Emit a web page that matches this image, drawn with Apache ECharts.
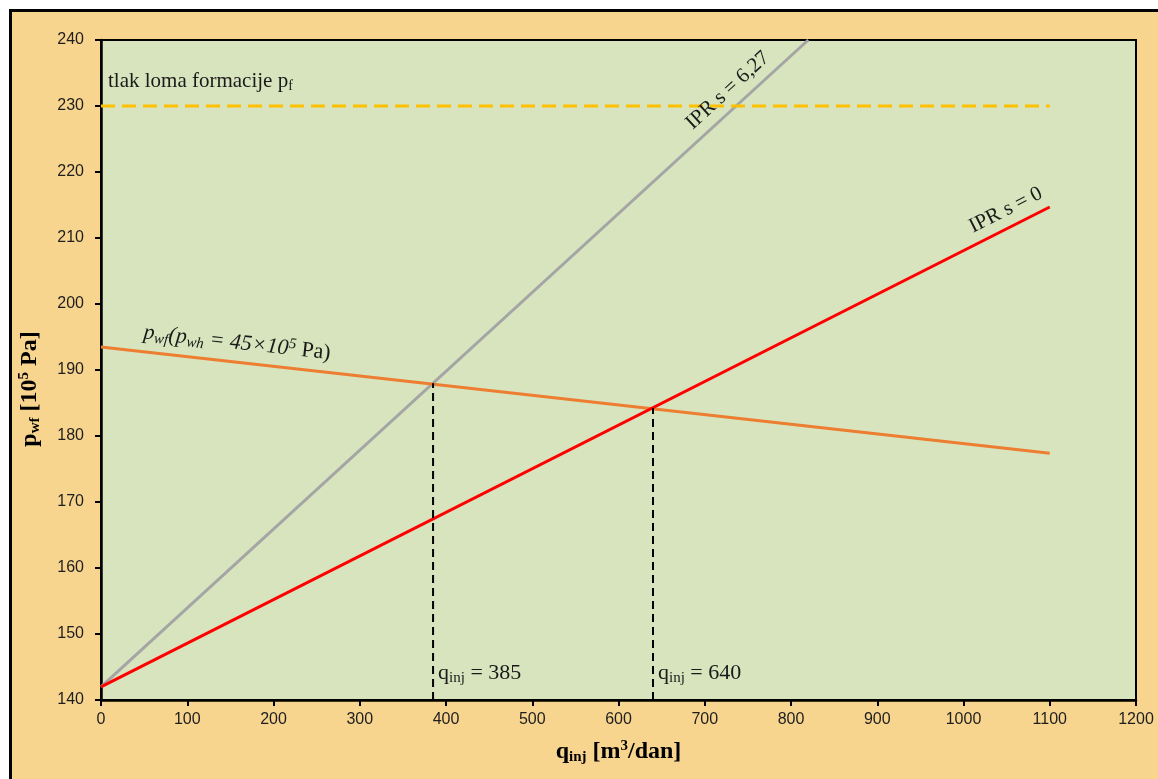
<!DOCTYPE html>
<html>
<head>
<meta charset="utf-8">
<script src="https://cdn.jsdelivr.net/npm/echarts@6/dist/echarts.min.js"></script>
<style>
html,body{margin:0;padding:0;background:#fff;overflow:hidden;width:1158px;height:779px;}
#frame{position:absolute;left:9px;top:9px;width:1200px;height:800px;border:3px solid #000;background:#F8D58E;}
#chart{position:absolute;left:0;top:0;width:1158px;height:779px;}
</style>
</head>
<body>
<div id="frame"></div>
<div id="chart"></div>
<script>
// ---- data ----
const xMin = 0, xMax = 1200, xStep = 100;
const yMin = 140, yMax = 240, yStep = 10;
const qIPR0 = [0, 1100];
const pIPR0 = [142, 214.7];
const qIPR627 = [0, 820];
const pIPR627 = [142, 240];
const qPwf = [0, 1100];
const pPwf = [193.5, 177.4];
const qFrac = [0, 1100];
const pFrac = [230, 230];
const qOper = [385, 640];
const pOper = [188, 184.2];

const zip = (a, b) => a.map((v, i) => [v, b[i]]);

const chart = echarts.init(document.getElementById('chart'));
const serif = '"Liberation Serif", "DejaVu Serif", serif';
const sans = '"Liberation Sans", Arial, sans-serif';

const series = [
  {type:'line', data: zip(qIPR627, pIPR627), symbol:'none', lineStyle:{color:'#A5A5A5', width:3}, z:2},
  {type:'line', data: zip(qPwf, pPwf), symbol:'none', lineStyle:{color:'#ED7D31', width:3}, z:3},
  {type:'line', data: zip(qIPR0, pIPR0), symbol:'none', lineStyle:{color:'#FF0000', width:3}, z:4},
  {type:'line', data: zip(qFrac, pFrac), symbol:'none', lineStyle:{color:'#FFC000', width:3, type:[14,7]}, z:2}
];
qOper.forEach((q, i) => {
  series.push({type:'line', data:[[q, yMin],[q, pOper[i]]], symbol:'none',
    lineStyle:{color:'#000', width:2, type:[8,5]}, z:5});
});

const nameRich = {
  b:{fontFamily:serif, fontWeight:'bold', fontSize:24, color:'#000'},
  bs:{fontFamily:serif, fontWeight:'bold', fontSize:15, color:'#000', padding:[11,0,0,0]},
  bp:{fontFamily:serif, fontWeight:'bold', fontSize:15, color:'#000', padding:[0,0,11,0]}
};

chart.setOption({
  animation:false,
  grid:{left:101, top:40, right:22, bottom:79, show:true, backgroundColor:'#D7E4BD', borderColor:'#000', borderWidth:2},
  xAxis:{type:'value', min:xMin, max:xMax, interval:xStep,
    axisLine:{show:true, lineStyle:{color:'#000', width:2.5}},
    axisTick:{show:true, inside:false, length:6, lineStyle:{color:'#000', width:2}},
    splitLine:{show:false},
    axisLabel:{color:'#1e1e1e', fontSize:16, fontFamily:sans, margin:12, formatter: v => String(v)},
    name:'{b|q}{bs|inj}{b| [m}{bp|3}{b|/dan]}', nameLocation:'middle', nameGap:39,
    nameTextStyle:{rich:nameRich}
  },
  yAxis:{type:'value', min:yMin, max:yMax, interval:yStep,
    axisLine:{show:true, lineStyle:{color:'#000', width:2.5}},
    axisTick:{show:true, inside:false, length:6, lineStyle:{color:'#000', width:2}},
    splitLine:{show:false},
    axisLabel:{color:'#1e1e1e', fontSize:16, fontFamily:sans, margin:17, formatter: v => String(v)},
    name:'{b|p}{bs|wf}{b| [10}{bp|5}{b| Pa]}', nameLocation:'middle', nameGap:58, nameRotate:90,
    nameTextStyle:{rich:nameRich, padding:[0,38,0,0]}
  },
  series: series
});

// ---- annotations anchored to data ----
const px = (q, p) => chart.convertToPixel({gridIndex:0}, [q, p]);
const angleOf = (qa, pa) => {
  const a = px(qa[0], pa[0]), b = px(qa[1], pa[1]);
  return Math.atan2(a[1] - b[1], b[0] - a[0]);
};
const onLine = (qa, pa, q) => pa[0] + (pa[1] - pa[0]) * (q - qa[0]) / (qa[1] - qa[0]);

function richSet(fs, ss) {
  return {
    n:{fontFamily:serif, fontSize:fs, color:'#1a1a1a'},
    s:{fontFamily:serif, fontSize:ss, color:'#1a1a1a', padding:[10,0,0,0]},
    ni:{fontFamily:serif, fontSize:fs, fontStyle:'italic', color:'#1a1a1a'},
    si:{fontFamily:serif, fontSize:ss, fontStyle:'italic', color:'#1a1a1a', padding:[10,0,0,0]},
    pi:{fontFamily:serif, fontSize:ss, fontStyle:'italic', color:'#1a1a1a', padding:[0,0,10,0]}
  };
}

function label(text, q, p, rot, dx, dy, align, vAlign, fs, ss) {
  const pt = px(q, p);
  return {type:'text', x:pt[0], y:pt[1], rotation:rot, z:100,
    style:{text:text, x:dx, y:dy, align:align, verticalAlign:vAlign, rich:richSet(fs, ss),
      fontFamily:serif, fontSize:fs, fill:'#1a1a1a'}};
}

const a627 = angleOf(qIPR627, pIPR627);
const a0 = angleOf(qIPR0, pIPR0);
const aPwf = angleOf(qPwf, pPwf);
const q627 = 740, q0 = 1058, qPw = 47;

chart.setOption({graphic:[
  label('{n|tlak loma formacije p}{s|f}', qFrac[0], pFrac[0], 0, 7, -25, 'left', 'middle', 21, 14),
  label('{n|IPR s = 6,27}', q627, onLine(qIPR627, pIPR627, q627), a627, 0, -17, 'center', 'middle', 21, 14),
  label('{n|IPR s = 0}', q0, onLine(qIPR0, pIPR0, q0), a0, 0, -17, 'center', 'middle', 21, 14),
  label('{ni|p}{si|wf}{ni|(p}{si|wh}{ni| = 45×10}{pi|5}{n| Pa)}', qPw, onLine(qPwf, pPwf, qPw), aPwf, 0, -19, 'left', 'middle', 22, 15),
  label('{n|q}{s|inj}{n| = ' + qOper[0] + '}', qOper[0], yMin, 0, 5, -27, 'left', 'middle', 22, 15),
  label('{n|q}{s|inj}{n| = ' + qOper[1] + '}', qOper[1], yMin, 0, 5, -27, 'left', 'middle', 22, 15)
]});
</script>
</body>
</html>
